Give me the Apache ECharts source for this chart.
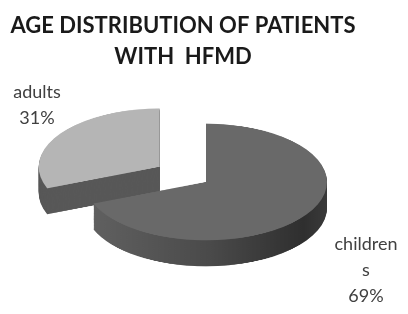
<!DOCTYPE html>
<html>
<head>
<meta charset="utf-8">
<script src="https://cdn.jsdelivr.net/npm/echarts@6/dist/echarts.min.js"></script>
<style>
html,body{margin:0;padding:0;background:#fff;}
#wrap{position:relative;width:408px;height:314px;overflow:hidden;background:#fff;}
#pie{position:absolute;left:0;top:0;width:408px;transform-origin:0 0;}
#txt{position:absolute;left:0;top:0;width:408px;height:314px;}
</style>
</head>
<body>
<div id="wrap"><div id="pie"></div><div id="txt"></div></div>
<script>
const chartTitle = 'AGE DISTRIBUTION OF PATIENTS\nWITH  HFMD';
const categories = ['childrens', 'adults'];
const values = [69, 31];
const exploded = [false, true];

// view geometry (screen px)
const K = 0.482;          // vertical squash of the tilted pie
const CX = 206, CY = 182, R = 121, DEPTH = 26;
const pieH = Math.ceil(314 / K);
const pieDiv = document.getElementById('pie');
pieDiv.style.height = pieH + 'px';
pieDiv.style.transform = 'scaleY(' + K + ')';

const topColors = ['#696969', '#b5b5b5'];
const sideColors = [
  {type:'linear', x:0, y:0, x2:1, y2:0, colorStops:[{offset:0,color:'#606060'},{offset:0.5,color:'#4a4a4a'},{offset:0.9,color:'#2f2f2f'},{offset:1,color:'#3a3a3a'}]},
  '#585858'
];

const cyPre = CY / K;
const depthPre = DEPTH / K;
const N = 28;
const series = [];
for (let i = N; i >= 0; i--) {
  const off = depthPre * i / N;
  const isTop = i === 0;
  series.push({
    type: 'pie',
    silent: true,
    animation: false,
    startAngle: 90,
    clockwise: true,
    center: [CX, cyPre + off],
    radius: [0, R],
    selectedMode: 'single',
    selectedOffset: 56,
    label: {show: false},
    labelLine: {show: false},
    emphasis: {disabled: true},
    z: 2,
    data: categories.map((c, j) => ({
      name: c,
      value: values[j],
      selected: exploded[j],
      itemStyle: {color: isTop ? topColors[j] : sideColors[j], borderWidth: 0}
    }))
  });
}
const pie = echarts.init(pieDiv, null, {renderer: 'canvas'});
pie.setOption({animation: false, series: series});

// text overlay
const total = values.reduce((a, b) => a + b, 0);
function labelText(j) {
  const name = categories[j];
  const wrapped = name.length > 8 ? name.slice(0, 8) + '\n' + name.slice(8) : name;
  return wrapped + '\n' + Math.round(values[j] / total * 100) + '%';
}
const labelPos = [[366, 231], [37, 79]];
const txt = echarts.init(document.getElementById('txt'));
txt.setOption({
  animation: false,
  title: {
    text: chartTitle,
    left: 178, top: 5, textAlign: 'center',
    textStyle: {fontFamily: 'Lato', fontWeight: 'bold', fontSize: 22, lineHeight: 31, color: '#1a1a1a'}
  },
  graphic: categories.map((c, j) => ({
    type: 'text',
    x: labelPos[j][0], y: labelPos[j][1],
    style: {
      text: labelText(j),
      textAlign: 'center',
      fontFamily: 'Lato', fontSize: 18, lineHeight: 26, fill: '#404040'
    }
  }))
});
</script>
</body>
</html>
